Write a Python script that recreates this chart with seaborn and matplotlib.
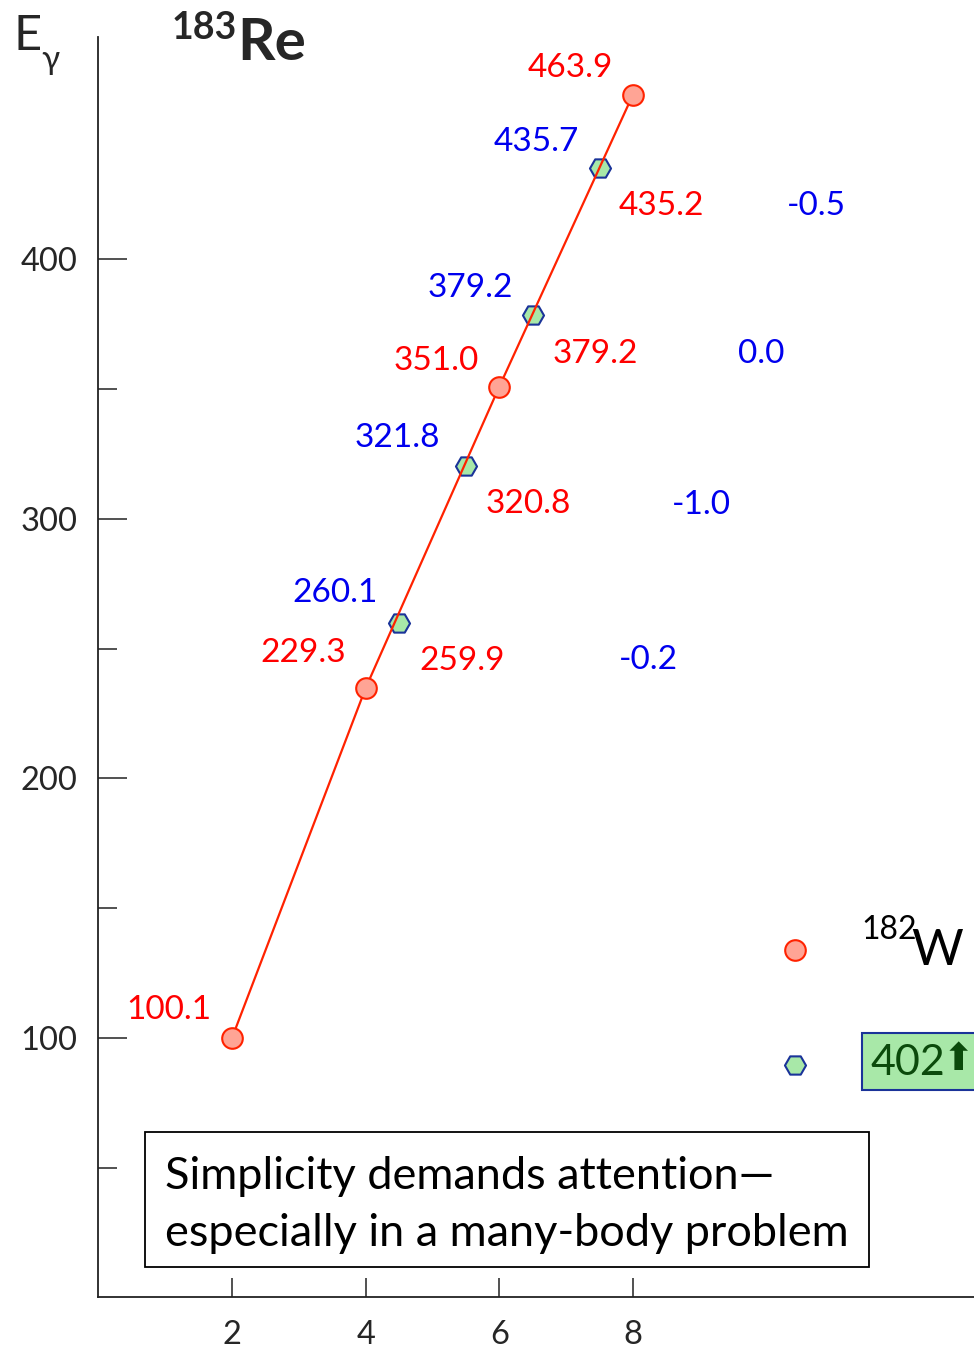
import matplotlib
matplotlib.use("Agg")
import matplotlib.pyplot as plt
import seaborn as sns
import pandas as pd
from matplotlib.patches import Rectangle

# ---- data ----
spin_w = [2, 4, 6, 8]
energy_w = [100.1, 234.9, 351.0, 463.5]
labels_w = ["100.1", "229.3", "351.0", "463.9"]

spin_re = [4.5, 5.5, 6.5, 7.5]
energy_re = [259.9, 320.5, 378.7, 435.4]
labels_re_blue = ["260.1", "321.8", "379.2", "435.7"]
labels_re_red = ["259.9", "320.8", "379.2", "435.2"]
labels_diff = ["-0.2", "-1.0", "0.0", "-0.5"]

xticks = [2, 4, 6, 8]
yticks_major = [100, 200, 300, 400]
yticks_minor = [50, 150, 250, 350]

# label positions (data coords)
pos_w = [(1.06, 110.6), (3.06, 248.5), (5.05, 361.0), (7.06, 473.6)]
pos_re_blue = [(3.54, 271.3), (4.47, 331.0), (5.56, 388.8), (6.55, 445.4)]
pos_re_red = [(5.44, 245.1), (6.44, 305.6), (7.43, 363.7), (8.42, 420.4)]
pos_diff = [(8.23, 245.8), (9.02, 305.2), (9.92, 363.7), (10.74, 420.4)]

RED = "#ff0000"
BLUE = "#0000ee"
LINE_RED = "#ff2200"
CIRCLE_FACE = "#ffa495"
HEX_FACE = "#a8e8a8"
HEX_EDGE = "#1a3399"

sns.set_style("white")
plt.rcParams["font.family"] = ["Lato", "DejaVu Sans"]

fig = plt.figure(figsize=(9.74, 13.5), dpi=100)
ax = fig.add_axes([0.1011, 0.0389, 0.8989 + 0.01, 0.9337])

df_w = pd.DataFrame({"spin": spin_w, "E": energy_w})
df_re = pd.DataFrame({"spin": spin_re, "E": energy_re})

sns.scatterplot(data=df_re, x="spin", y="E", ax=ax, marker="H", s=230,
                color=HEX_FACE, edgecolor=HEX_EDGE, linewidth=1.5, zorder=2)
sns.lineplot(data=df_w, x="spin", y="E", ax=ax, color=LINE_RED, linewidth=1.6,
             zorder=3, sort=False)
sns.scatterplot(data=df_w, x="spin", y="E", ax=ax, marker="o", s=220,
                color=CIRCLE_FACE, edgecolor=LINE_RED, linewidth=1.5, zorder=4)

fs = 24
for (x, y), t in zip(pos_w, labels_w):
    ax.text(x, y, t, color=RED, fontsize=fs, ha="center", va="center")
for (x, y), t in zip(pos_re_blue, labels_re_blue):
    ax.text(x, y, t, color=BLUE, fontsize=fs, ha="center", va="center")
for (x, y), t in zip(pos_re_red, labels_re_red):
    ax.text(x, y, t, color=RED, fontsize=fs, ha="center", va="center")
for (x, y), t in zip(pos_diff, labels_diff):
    ax.text(x, y, t, color=BLUE, fontsize=fs, ha="center", va="center")

# legend-like markers
ax.scatter([10.43], [133.9], marker="o", s=220, color=CIRCLE_FACE,
           edgecolor=LINE_RED, linewidth=1.5, zorder=4, clip_on=False)
ax.scatter([10.43], [89.6], marker="H", s=230, color=HEX_FACE,
           edgecolor=HEX_EDGE, linewidth=1.5, zorder=4, clip_on=False)

ax.text(11.42, 141.5, "182", fontsize=23, ha="left", va="center", color="black")
ax.text(12.16, 133.5, "W", fontsize=36, ha="left", va="center", color="black")

ax.add_patch(Rectangle((11.43, 80.0), 2.0, 21.8, facecolor=HEX_FACE,
                       edgecolor=HEX_EDGE, linewidth=1.5, zorder=5, clip_on=True))
ax.text(11.55, 90.5, "402", fontsize=31, color="#0b4a0b", ha="left",
        va="center", zorder=6)
ax.text(12.63, 91.5, "\u2b06", fontsize=27, color="#0b4a0b", ha="left",
        va="center", zorder=6, family=["DejaVu Sans"])

# text box
ax.add_patch(Rectangle((0.696, 11.75), 10.83, 52.05, facecolor="white",
                       edgecolor="black", linewidth=1.3, zorder=5))
ax.text(0.995, 46.6, "Simplicity demands attention\u2014", fontsize=32.5,
        ha="left", va="center", zorder=6, color="black")
ax.text(0.995, 24.6, "especially in a many-body problem", fontsize=32.5,
        ha="left", va="center", zorder=6, color="black")

# axes styling
ax.set_xlim(0, 13.25)
ax.set_ylim(0, 485.7)
ax.set_xticks(xticks)
ax.set_yticks(yticks_major)
ax.set_yticks(yticks_minor, minor=True)
ax.set_xlabel("")
ax.set_ylabel("")
for side in ["top", "right"]:
    ax.spines[side].set_visible(False)
for side in ["left", "bottom"]:
    ax.spines[side].set_color("#222222")
    ax.spines[side].set_linewidth(1.3)
ax.tick_params(axis="y", which="major", direction="in", length=21, width=1.2,
               color="#333333", labelsize=23.5, pad=15, left=True)
ax.tick_params(axis="y", which="minor", direction="in", length=14, width=1.2,
               color="#333333", left=True)
ax.tick_params(axis="x", which="major", direction="in", length=14, width=1.2,
               color="#333333", labelsize=23.5, pad=16, bottom=True)

# titles
fig.text(14 / 974, 1 - 36 / 1350, "E", fontsize=35, ha="left", va="center")
fig.text(41 / 974, 1 - 60 / 1350, "\u03b3", fontsize=24, ha="left", va="center")
fig.text(172 / 974, 1 - 28 / 1350, "183", fontsize=27, fontweight="bold",
         ha="left", va="center")
fig.text(237 / 974, 1 - 43 / 1350, "Re", fontsize=42, fontweight="bold",
         ha="left", va="center")

fig.savefig("out.png", dpi=100)
